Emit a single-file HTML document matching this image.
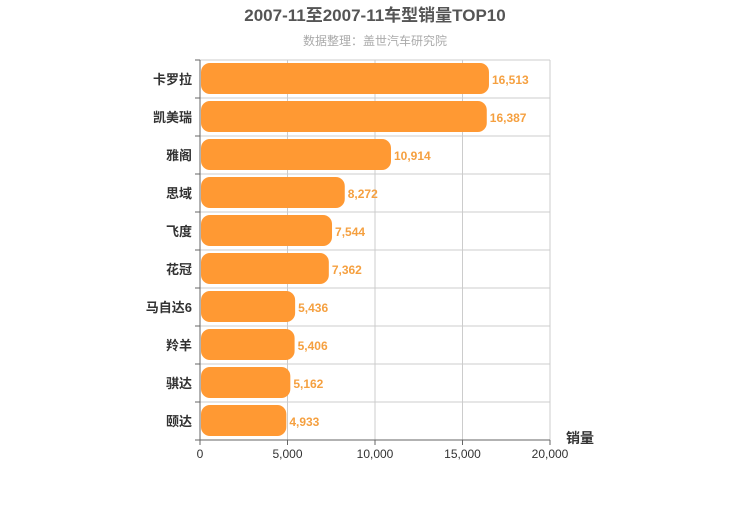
<!DOCTYPE html>
<html><head><meta charset="utf-8"><style>body{margin:0;background:#fff}svg{font-family:"Liberation Sans","Noto Sans CJK SC",sans-serif}</style></head>
<body>
<svg id="c" width="750" height="500"></svg>
<script>
const categories=["卡罗拉","凯美瑞","雅阁","思域","飞度","花冠","马自达6","羚羊","骐达","颐达"];
const sales=[16513,16387,10914,8272,7544,7362,5436,5406,5162,4933];
const xTicks=[0,5000,10000,15000,20000];
const tickLabels=["0","5,000","10,000","15,000","20,000"];
const NS="http://www.w3.org/2000/svg",svg=document.getElementById('c');
const L=200,R=550,T=60,B=440,band=(B-T)/categories.length;
const x=v=>L+v/20000*(R-L), y=i=>T+i*band;
function mk(t,a,txt){const e=document.createElementNS(NS,t);for(const k in a)e.setAttribute(k,a[k]);if(txt!=null)e.textContent=txt;svg.appendChild(e);return e;}
let e;
e=mk('text',{x:375,y:21,'text-anchor':'middle','font-size':17,'font-weight':'bold',fill:'#555'},'2007-11至2007-11车型销量TOP10');

e=mk('text',{x:375,y:45,'text-anchor':'middle','font-size':12,fill:'#aaa'},'数据整理：盖世汽车研究院');

xTicks.forEach((t,i)=>{
 if(i>0){e=mk('line',{x1:x(t),x2:x(t),y1:T,y2:B,stroke:'#ccc'});}
 e=mk('line',{x1:x(t),x2:x(t),y1:B,y2:B+5,stroke:'#666'});
 e=mk('text',{x:x(t),y:B+18,'text-anchor':'middle','font-size':12,fill:'#333'},tickLabels[i]);
 
});
for(let i=0;i<=categories.length;i++){
 e=mk('line',{x1:L,x2:R,y1:y(i),y2:y(i),stroke:'#ccc'});
 e=mk('line',{x1:L-5,x2:L,y1:y(i),y2:y(i),stroke:'#666'});
}
categories.forEach((c,i)=>{
 e=mk('text',{x:L-8,y:y(i)+band/2+5,'text-anchor':'end','font-size':13,'font-weight':'bold',fill:'#333'},c);
 
 e=mk('rect',{x:L+1,y:y(i)+3,width:x(sales[i])-L-1,height:band-7,rx:9,fill:'#ff9933'});
 
 e=mk('text',{x:x(sales[i])+3,y:y(i)+band/2+5,'font-size':12,'font-weight':'bold',fill:'#f5a040'},sales[i].toLocaleString('en-US'));
 
});
e=mk('line',{x1:L,x2:L,y1:T,y2:B,stroke:'#666'});
e=mk('line',{x1:L,x2:R,y1:B,y2:B,stroke:'#666'});
e=mk('text',{x:580,y:443,'text-anchor':'middle','font-size':14,'font-weight':'bold',fill:'#333'},'销量');

</script>
</body></html>
